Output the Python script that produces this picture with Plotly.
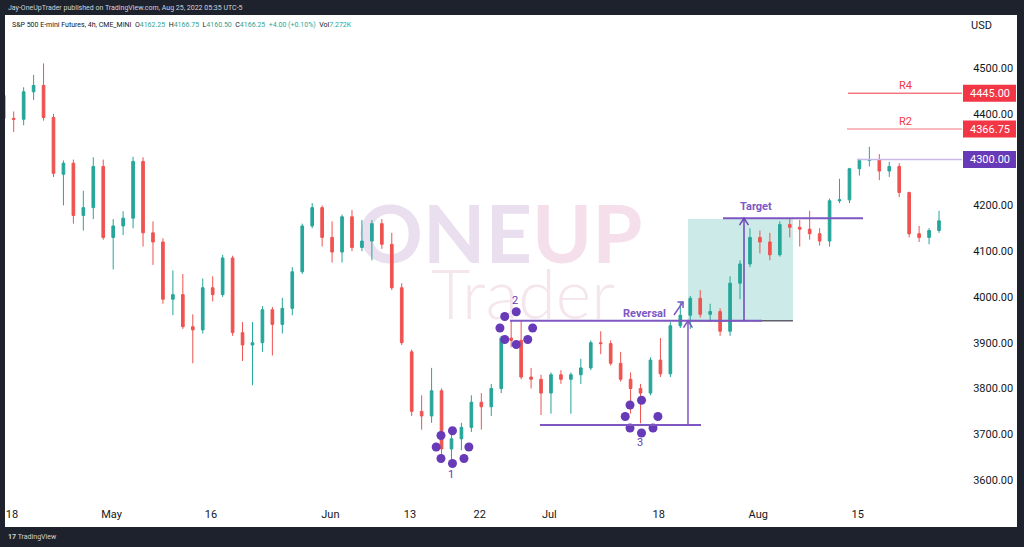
import plotly.graph_objects as go

# ---------------- data (daily OHLC) ----------------
dates = [
    "2022-04-14", "2022-04-18", "2022-04-19", "2022-04-20", "2022-04-21", "2022-04-22",
    "2022-04-25", "2022-04-26", "2022-04-27", "2022-04-28", "2022-04-29",
    "2022-05-02", "2022-05-03", "2022-05-04", "2022-05-05", "2022-05-06",
    "2022-05-09", "2022-05-10", "2022-05-11", "2022-05-12", "2022-05-13",
    "2022-05-16", "2022-05-17", "2022-05-18", "2022-05-19", "2022-05-20",
    "2022-05-23", "2022-05-24", "2022-05-25", "2022-05-26", "2022-05-27",
    "2022-05-30", "2022-05-31", "2022-06-01", "2022-06-02", "2022-06-03",
    "2022-06-06", "2022-06-07", "2022-06-08", "2022-06-09", "2022-06-10",
    "2022-06-13", "2022-06-14", "2022-06-15", "2022-06-16", "2022-06-17",
    "2022-06-20", "2022-06-21", "2022-06-22", "2022-06-23", "2022-06-24",
    "2022-06-27", "2022-06-28", "2022-06-29", "2022-06-30", "2022-07-01",
    "2022-07-04", "2022-07-05", "2022-07-06", "2022-07-07", "2022-07-08",
    "2022-07-11", "2022-07-12", "2022-07-13", "2022-07-14", "2022-07-15",
    "2022-07-18", "2022-07-19", "2022-07-20", "2022-07-21", "2022-07-22",
    "2022-07-25", "2022-07-26", "2022-07-27", "2022-07-28", "2022-07-29",
    "2022-08-01", "2022-08-02", "2022-08-03", "2022-08-04", "2022-08-05",
    "2022-08-08", "2022-08-09", "2022-08-10", "2022-08-11", "2022-08-12",
    "2022-08-15", "2022-08-16", "2022-08-17", "2022-08-18", "2022-08-19",
    "2022-08-22", "2022-08-23", "2022-08-24", "2022-08-25",
]
opens = [
    4440, 4390, 4388, 4448, 4462, 4392, 4268, 4292, 4178, 4195, 4285,
    4130, 4155, 4172, 4296, 4140, 4120, 3995, 4005, 3935, 3928,
    4020, 4005, 4085, 3922, 3895, 3900, 3972, 3940, 3975, 4055,
    4155, 4195, 4130, 4098, 4175, 4108, 4122, 4160, 4115, 4020,
    3880, 3750, 3740, 3795, 3668, 3690, 3715, 3770, 3760, 3800,
    3910, 3905, 3825, 3820, 3790, 3830, 3820, 3830, 3845, 3900,
    3898, 3855, 3820, 3800, 3790, 3862, 3832, 3937, 3960, 3997,
    3962, 3968, 3925, 4030, 4072, 4130, 4120, 4092, 4158, 4152,
    4148, 4138, 4122, 4210, 4212, 4280, 4298, 4300, 4275, 4285,
    4228, 4138, 4130, 4145,
]
highs = [
    4446, 4405, 4458, 4485, 4510, 4400, 4298, 4300, 4232, 4305, 4300,
    4170, 4187, 4306, 4305, 4165, 4128, 4058, 4050, 3962, 4040,
    4045, 4092, 4090, 3945, 3945, 3980, 3978, 3998, 4065, 4160,
    4205, 4200, 4165, 4180, 4190, 4168, 4168, 4170, 4140, 4030,
    3885, 3785, 3845, 3800, 3710, 3725, 3785, 3790, 3810, 3915,
    3948, 3948, 3845, 3830, 3835, 3840, 3835, 3865, 3905, 3925,
    3905, 3880, 3835, 3810, 3868, 3910, 3945, 3990, 4002, 4015,
    3985, 3975, 4045, 4080, 4150, 4145, 4140, 4165, 4170, 4168,
    4188, 4150, 4215, 4258, 4282, 4302, 4328, 4312, 4295, 4292,
    4230, 4155, 4150, 4188,
]
lows = [
    4385, 4360, 4375, 4430, 4385, 4262, 4200, 4160, 4145, 4170, 4125,
    4060, 4135, 4150, 4110, 4070, 3985, 3960, 3930, 3855, 3920,
    3990, 4000, 3915, 3860, 3807, 3880, 3872, 3920, 3960, 4050,
    4150, 4110, 4075, 4075, 4100, 4100, 4080, 4105, 4015, 3895,
    3740, 3710, 3725, 3640, 3640, 3665, 3705, 3710, 3740, 3790,
    3890, 3820, 3800, 3742, 3745, 3810, 3745, 3810, 3840, 3875,
    3850, 3815, 3745, 3724, 3785, 3825, 3825, 3932, 3930, 3955,
    3945, 3915, 3915, 3995, 4065, 4095, 4080, 4088, 4130, 4110,
    4125, 4112, 4110, 4205, 4205, 4265, 4285, 4255, 4262, 4218,
    4130, 4120, 4115, 4140,
]
closes = [
    4390, 4388, 4448, 4462, 4392, 4270, 4292, 4178, 4195, 4285, 4130,
    4155, 4172, 4296, 4140, 4120, 3995, 4005, 3935, 3928, 4020,
    4005, 4085, 3922, 3895, 3900, 3972, 3940, 3975, 4055, 4155,
    4195, 4130, 4098, 4175, 4108, 4122, 4160, 4115, 4020, 3900,
    3750, 3740, 3795, 3668, 3690, 3715, 3770, 3760, 3800, 3910,
    3905, 3825, 3820, 3790, 3830, 3820, 3830, 3845, 3900, 3898,
    3855, 3820, 3800, 3790, 3862, 3832, 3937, 3960, 3997, 3962,
    3968, 3925, 4030, 4072, 4130, 4120, 4092, 4158, 4152, 4148,
    4138, 4122, 4210, 4212, 4280, 4298, 4300, 4275, 4285, 4228,
    4138, 4130, 4145, 4166.25,
]

tick_dates = ["2022-04-18", "2022-05-02", "2022-05-16", "2022-06-01", "2022-06-13",
              "2022-06-22", "2022-07-01", "2022-07-18", "2022-08-01", "2022-08-15"]
tick_text = ["18", "May", "16", "Jun", "13", "22", "Jul", "18", "Aug", "15"]
# 4300.00 is shown by the purple level label instead of a plain tick
price_ticks = [3600, 3700, 3800, 3900, 4000, 4100, 4200, 4400, 4500]

r4_level = 4445.00
r2_level = 4366.75
pivot_level = 4300.00
reversal_level = 3948
support_level = 3720
target_level = 4172
box_top = 4170

# ---------------- geometry ----------------
W, H = 1024, 547
PL, PR, PT, PB = 5, 962, 15, 500
PX_PER_DAY = 9.95
PX_PER_PT = 0.4578
X_RANGE = [0.126, 96.31]
Y_RANGE = [3556.4, 4615.8]


def fx(px):
    return (px - PL) / (PR - PL)


def fy(py):
    return (PB - py) / (PB - PT)


xs = list(range(len(dates)))
tickvals = [dates.index(d) - 0.17 for d in tick_dates]

UP = "#26a69a"
DN = "#ef5350"
PURPLE = "#7e57c2"
DOT = "#673ab7"
RED = "#f23645"
FONT = "Roboto, Liberation Sans, sans-serif"

fig = go.Figure()

# watermark (main axes, drawn beneath the overlaid candle axes)
fig.add_trace(go.Scatter(
    x=[49.87], y=[4117.7], mode="text",
    text=["<span style='color:#eadfee'>ONE</span><span style='color:#f4dfea'>UP</span>"],
    textfont=dict(family="Lato, sans-serif", size=81, weight=700),
    textposition="middle center", hoverinfo="skip", showlegend=False,
    xaxis="x", yaxis="y"))
fig.add_trace(go.Scatter(
    x=[52.2], y=[3990.0], mode="text", text=["Trader"],
    textfont=dict(family="Lato, sans-serif", size=68, weight=300, color="#f5e6ee"),
    textposition="middle center", hoverinfo="skip", showlegend=False,
    xaxis="x", yaxis="y"))

fig.add_trace(go.Candlestick(
    x=xs, open=opens, high=highs, low=lows, close=closes,
    increasing=dict(line=dict(color=UP, width=1), fillcolor=UP),
    decreasing=dict(line=dict(color=DN, width=1), fillcolor=DN),
    whiskerwidth=0, hoverinfo="skip", showlegend=False,
    xaxis="x", yaxis="y2"))

# pattern dots
ring = [(-11.5, -11.5), (0, -16.3), (-16.3, 0), (16.4, 0), (-11.5, 11.5), (11.5, 11.5), (0, 16.5)]
centers = [(45.10, 3672.1), (51.51, 3932.1), (64.10, 3738.8)]
dx, dy = [], []
for cx, cy in centers:
    for ox, oy in ring:
        dx.append(cx + ox / PX_PER_DAY)
        dy.append(cy - oy / PX_PER_PT)
fig.add_trace(go.Scatter(
    x=dx, y=dy, mode="markers", marker=dict(size=9, color=DOT),
    hoverinfo="skip", showlegend=False, xaxis="x", yaxis="y2"))

shapes = []
# white chart area
shapes.append(dict(type="rect", xref="paper", yref="paper", x0=fx(5), x1=fx(1017),
                   y0=fy(527), y1=fy(15), fillcolor="white", line=dict(width=0), layer="below"))
# projection box
shapes.append(dict(type="rect", xref="x", yref="y2", x0=68.77, x1=79.32,
                   y0=reversal_level, y1=box_top, fillcolor="rgba(0,150,136,0.2)",
                   line=dict(width=0), layer="below"))


def hline(x0, x1, y, color, width):
    shapes.append(dict(type="line", xref="x", yref="y2", x0=x0, x1=x1, y0=y, y1=y,
                       line=dict(color=color, width=width), layer="above"))


def vline(x, y0, y1, color, width):
    shapes.append(dict(type="line", xref="x", yref="y2", x0=x, x1=x, y0=y0, y1=y1,
                       line=dict(color=color, width=width), layer="above"))


def path(pts, color, width):
    d = "M " + " L ".join(f"{a},{b}" for a, b in pts)
    shapes.append(dict(type="path", xref="x", yref="y2", path=d,
                       line=dict(color=color, width=width), layer="above"))


hline(68.77, 79.32, reversal_level, "#5d606b", 1.5)
hline(50.88, 76.21, reversal_level, PURPLE, 2)
hline(53.89, 70.08, support_level, PURPLE, 2)
hline(72.29, 86.36, target_level, PURPLE, 2)
vline(74.40, reversal_level, target_level, "#6a45b8", 1.5)
vline(68.77, support_level, reversal_level, PURPLE, 1.5)
path([(74.40 - 0.45, target_level - 15), (74.40, target_level), (74.40 + 0.45, target_level - 15)], "#6a45b8", 1.5)
path([(68.77 - 0.45, reversal_level - 15), (68.77, reversal_level), (68.77 + 0.45, reversal_level - 15)], PURPLE, 1.5)
# reversal arrow
path([(67.36, 3960.5), (68.27, 3988.9)], PURPLE, 1.5)
path([(67.70, 3988.9), (68.27, 3988.9), (68.27, 3975.7)], PURPLE, 1.5)

# pivot / resistance lines
hline(84.85, X_RANGE[1], r4_level, RED, 1)
hline(84.75, X_RANGE[1], r2_level, "#f4737c", 1)
hline(85.76, X_RANGE[1], pivot_level, "#c9b8ea", 1.5)

# price label boxes
for lvl, col in [(r4_level, RED), (r2_level, RED), (pivot_level, DOT)]:
    shapes.append(dict(type="rect", xref="paper", yref="y2", x0=fx(963), x1=fx(1016),
                       y0=lvl - 8.5 / PX_PER_PT, y1=lvl + 8.5 / PX_PER_PT,
                       fillcolor=col, line=dict(width=0), layer="above"))

ann = []
for lvl in [r4_level, r2_level, pivot_level]:
    ann.append(dict(xref="paper", yref="y2", x=fx(989.5), y=lvl, text=f"{lvl:.2f}",
                    showarrow=False, font=dict(family=FONT, size=11, color="white"),
                    xanchor="center", yanchor="middle"))
ann.append(dict(xref="x", yref="y2", x=90.6, y=4462.9, text="R4", showarrow=False,
                font=dict(family=FONT, size=11, color=RED)))
ann.append(dict(xref="x", yref="y2", x=90.6, y=4384.2, text="R2", showarrow=False,
                font=dict(family=FONT, size=11, color=RED)))
ann.append(dict(xref="x", yref="y2", x=75.6, y=4198.6, text="<b>Target</b>", showarrow=False,
                font=dict(family=FONT, size=11, color=PURPLE)))
ann.append(dict(xref="x", yref="y2", x=64.35, y=3962.7, text="<b>Reversal</b>", showarrow=False,
                font=dict(family=FONT, size=11, color=PURPLE)))
for (cx, cy), lab, oy in zip(centers, ["1", "2", "3"], [27, -28, 26]):
    ann.append(dict(xref="x", yref="y2", x=cx - 0.15, y=cy - oy / PX_PER_PT, text=lab,
                    showarrow=False, font=dict(family=FONT, size=11, color=DOT)))

# header / chrome text
ann.append(dict(xref="paper", yref="paper", x=fx(6), y=fy(8),
                text="Jay-OneUpTrader published on TradingView.com, Aug 25, 2022 05:35 UTC-5",
                showarrow=False, xanchor="left", yanchor="middle",
                font=dict(family=FONT, size=7, color="#d1d4dc")))
T = "#26a69a"
hdr = ("S&amp;P 500 E-mini Futures, 4h, CME_MINI  "
       f"O<span style='color:{T}'>4162.25</span>  H<span style='color:{T}'>4166.75</span>  "
       f"L<span style='color:{T}'>4160.50</span>  C<span style='color:{T}'>4166.25</span>  "
       f"<span style='color:{T}'>+4.00 (+0.10%)</span>  Vol<span style='color:{T}'>7.272K</span>")
ann.append(dict(xref="paper", yref="paper", x=fx(10), y=fy(24.5), text=hdr,
                showarrow=False, xanchor="left", yanchor="middle",
                font=dict(family=FONT, size=7, color="#131722")))
ann.append(dict(xref="paper", yref="paper", x=fx(969), y=fy(25), text="USD",
                showarrow=False, xanchor="left", yanchor="middle",
                font=dict(family=FONT, size=11, color="#131722")))
ann.append(dict(xref="paper", yref="paper", x=fx(6), y=fy(537), text="<b>17</b> TradingView",
                showarrow=False, xanchor="left", yanchor="middle",
                font=dict(family=FONT, size=7, color="#d1d4dc")))

fig.update_layout(
    width=W, height=H,
    margin=dict(l=PL, r=W - PR, t=PT, b=H - PB, pad=0),
    paper_bgcolor="#1e222d", plot_bgcolor="white",
    showlegend=False, hovermode=False, boxgap=0.62,
    shapes=shapes, annotations=ann,
    xaxis=dict(range=X_RANGE, showgrid=False, zeroline=False, showline=False,
               tickvals=tickvals, ticktext=tick_text, ticks="outside", ticklen=4,
               tickcolor="rgba(0,0,0,0)", tickfont=dict(family=FONT, size=11, color="#131722"),
               rangeslider=dict(visible=False), fixedrange=True),
    yaxis=dict(range=Y_RANGE, visible=False, fixedrange=True),
    yaxis2=dict(range=Y_RANGE, overlaying="y", side="right", showgrid=False, zeroline=False,
                showline=False, tickvals=price_ticks, tickformat=".2f", ticks="outside",
                ticklen=8, tickcolor="rgba(0,0,0,0)",
                tickfont=dict(family=FONT, size=11, color="#131722"), fixedrange=True),
)

fig.write_html("out.html", config={"displayModeBar": False},
               post_script="document.body.style.margin='0';")
